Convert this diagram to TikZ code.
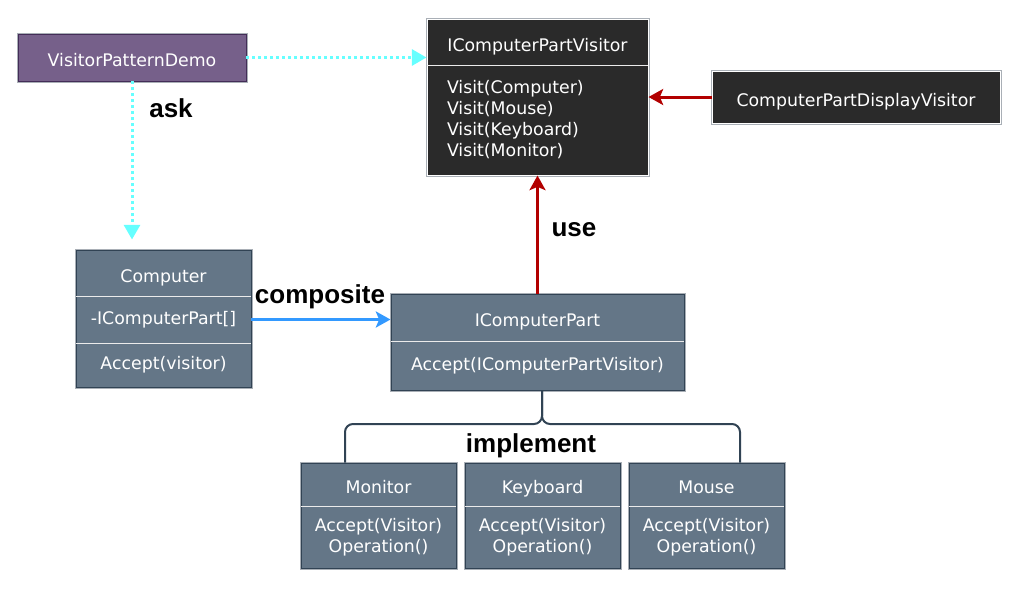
\documentclass[tikz,border=0pt]{standalone}
\usepackage{fontspec}
\setmainfont{DejaVu Sans}
\newfontfamily\labelfont{Liberation Sans}
\usetikzlibrary{positioning,fit,backgrounds,arrows.meta}

\definecolor{slatefill}{HTML}{647687}
\definecolor{slateline}{HTML}{314354}
\definecolor{plumfill}{HTML}{76608A}
\definecolor{plumline}{HTML}{432D57}
\definecolor{darkfill}{HTML}{2A2A2A}
\definecolor{rim}{HTML}{A9AFB6}
\definecolor{askcyan}{HTML}{66FFFF}
\definecolor{usered}{HTML}{B20000}
\definecolor{partblue}{HTML}{3399FF}

\tikzset{
  comp/.style={rectangle, inner sep=0pt, outer sep=0pt, text=white, align=center,
    font=\fontsize{13}{15.75}\selectfont},
  title/.style={comp, text height=14pt, text depth=0pt},
  classbox/.style 2 args={rectangle, inner sep=0pt, fill=#1, draw=#2, line width=0.75pt,
    preaction={draw=rim, line width=2.25pt}},
  sep/.style={draw=white!92!black, line width=0.75pt},
  tag/.style={font=\labelfont\bfseries\fontsize{19.5}{22}\selectfont, anchor=base},
  ask line/.style={draw=askcyan, line width=2.25pt, dash pattern=on 2.25pt off 2.25pt,
    -{Triangle[length=11pt, width=12pt]}},
  use line/.style={draw=usered, line width=2.25pt, -{Stealth[length=11pt, width=12pt, inset=2.5pt]}},
  composite line/.style={draw=partblue, line width=2.25pt, -{Stealth[length=11pt, width=12pt, inset=2.5pt]}},
  implement line/.style={draw=slateline, line width=1.5pt, rounded corners=6pt}
}

\begin{document}
\begin{tikzpicture}[x=0.75pt, y=-0.75pt]
\useasboundingbox (0,0) rectangle (1022,590);

% client and visitors
\node[title, classbox={plumfill}{plumline}, minimum width=171pt, minimum height=35.25pt] (demo) at (132,57.5) {VisitorPatternDemo};
\node[title, minimum width=165.75pt, minimum height=34.5pt] (visitor) at (537.5,42) {IComputerPartVisitor};
\node[comp, below=0pt of visitor, minimum width=165.75pt, minimum height=82.5pt, text width=135.75pt, align=left] (visitor ops) {Visit(Computer)\\Visit(Mouse)\\Visit(Keyboard)\\Visit(Monitor)};
\node[title, classbox={darkfill}{white}, minimum width=216pt, minimum height=39pt] (display) at (856,97) {ComputerPartDisplayVisitor};

% elements
\node[title, minimum width=131.25pt, minimum height=34.5pt] (computer) at (163.5,273) {Computer};
\node[comp, below=0pt of computer, minimum width=131.25pt, minimum height=35.25pt] (computer attr) {-IComputerPart[]};
\node[comp, below=0pt of computer attr, minimum width=131.25pt, minimum height=33pt] (computer ops) {Accept(visitor)};
\node[title, minimum width=219.75pt, minimum height=35.25pt] (part) at (537.5,317.5) {IComputerPart};
\node[comp, below=0pt of part, minimum width=219.75pt, minimum height=36.75pt] (part ops) {Accept(IComputerPartVisitor)};

% implementations
\foreach \name/\x in {Monitor/378.5, Keyboard/542.5, Mouse/706.5} {
  \node[title, minimum width=116.25pt, minimum height=32.25pt] (\name) at (\x,484.5) {\name};
  \node[comp, below=0pt of \name, minimum width=116.25pt, minimum height=46.5pt] (\name-ops) {Accept(Visitor)\\Operation()};
}

% frames behind the compartments
\begin{scope}[on background layer]
\node[classbox={darkfill}{white}, fit=(visitor)(visitor ops)] (visitor box) {};
\node[classbox={slatefill}{slateline}, fit=(computer)(computer ops)] (computer box) {};
\node[classbox={slatefill}{slateline}, fit=(part)(part ops)] (part box) {};
\foreach \name in {Monitor, Keyboard, Mouse}
  \node[classbox={slatefill}{slateline}, fit=(\name)(\name-ops)] (\name-box) {};
\end{scope}

% separators
\draw[sep] (visitor.south west) -- (visitor.south east);
\draw[sep] (computer.south west) -- (computer.south east);
\draw[sep] (computer attr.south west) -- (computer attr.south east);
\draw[sep] (part.south west) -- (part.south east);
\foreach \name in {Monitor, Keyboard, Mouse}
  \draw[sep] (\name.south west) -- (\name.south east);

% connectors
\draw[ask line] (demo.east) -- (demo.east -| visitor box.west);
\draw[ask line, shorten >=7.5pt] (demo.south) -- (demo.south |- computer box.north);
\draw[use line] (display.west) -- (display.west -| visitor box.east);
\draw[use line] (part box.north) -- (part box.north |- visitor box.south);
\draw[composite line] (computer attr.east) -- (computer attr.east -| part box.west);
\coordinate (fork) at (542,424);
\draw[implement line] (fork |- part box.south) -- (fork) -| ([xshift=-25.125pt]Monitor-box.north);
\draw[implement line] (fork |- part box.south) -- (fork) -| ([xshift=25.125pt]Mouse-box.north);

% labels
\node[tag] (ask) at (171,117) {ask};
\node[tag] (use) at (574,236) {use};
\node[tag] (composite) at (320,303) {composite};
\node[tag] (implement) at (531,452) {implement};

\end{tikzpicture}
\end{document}
